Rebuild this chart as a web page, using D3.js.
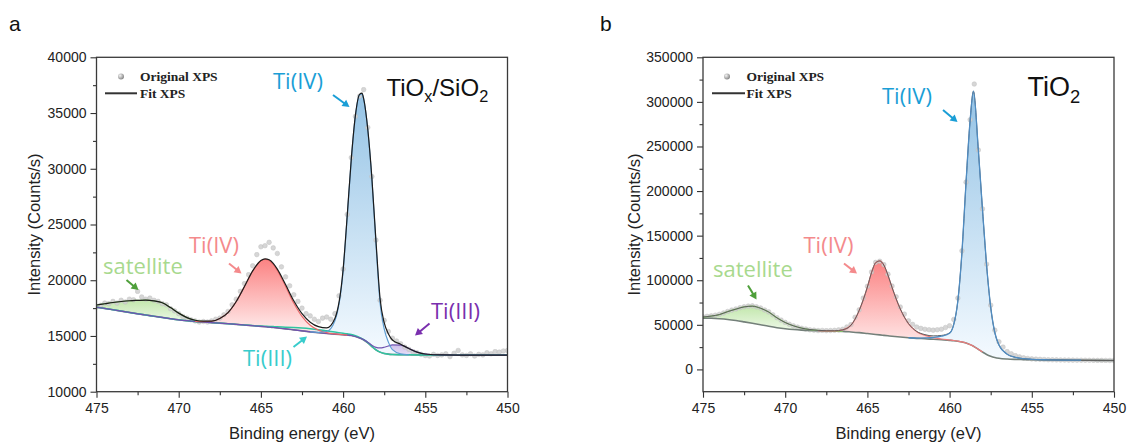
<!DOCTYPE html>
<html><head><meta charset="utf-8">
<script src="https://cdn.jsdelivr.net/npm/d3@7"></script>
<style>body{margin:0;background:#fff}svg{display:block}</style>
</head><body><svg id="c" width="1129" height="445"></svg>
<script>
// ---------- DATA ----------
const dataEnergy = [475,474.75,474.5,474.25,474,473.75,473.5,473.25,473,472.75,472.5,472.25,472,471.75,471.5,471.25,471,470.75,470.5,470.25,470,469.75,469.5,469.25,469,468.75,468.5,468.25,468,467.75,467.5,467.25,467,466.75,466.5,466.25,466,465.75,465.5,465.25,465,464.75,464.5,464.25,464,463.75,463.5,463.25,463,462.75,462.5,462.25,462,461.75,461.5,461.25,461,460.75,460.5,460.25,460,459.75,459.5,459.25,459,458.75,458.5,458.25,458,457.75,457.5,457.25,457,456.75,456.5,456.25,456,455.75,455.5,455.25,455,454.75,454.5,454.25,454,453.75,453.5,453.25,453,452.75,452.5,452.25,452,451.75,451.5,451.25,451,450.75,450.5,450.25,450];

const aData = [17600,17750,17950,17900,18100,17950,18200,18050,18300,18250,
  19000,18500,18300,18400,18200,18100,17900,17800,17450,17250,
  17000,16750,16600,16450,16350,16250,16300,16250,16350,16500,
  16600,16900,17200,17800,18300,19000,19700,20500,21300,22300,
  23000,23100,23400,22900,22400,21200,20300,19500,18700,18100,
  17500,17000,16800,16500,16300,16600,16700,16500,17000,18600,
  21000,25900,31000,34700,36500,37100,33700,29300,23600,18200,
  16400,15400,14800,14550,14300,14000,13800,13600,13500,13350,
  13250,13200,13350,13250,13300,13400,13150,13450,13700,13300,
  13250,13400,13200,13350,13300,13500,13400,13600,13550,13650,
  13700];

const bData = [59000,59500,60000,60800,61800,63300,65000,66500,67800,69200,
  70300,71000,71300,70200,68900,66700,64500,61300,58000,55300,
  52700,50600,48800,47400,46100,45300,44400,44000,43600,43700,
  43500,43600,43800,44300,45000,47600,50300,58500,66800,80000,
  93200,109300,120000,121300,117500,106800,93500,81500,70000,62000,
  54500,50500,47500,46000,45000,44500,44000,44500,45000,47000,
  49000,56000,80000,133000,210000,280000,320000,246000,180000,118000,
  72000,44000,31000,25000,20000,17500,15500,14000,13000,12300,
  11800,11500,11300,11100,10900,10800,10700,10600,10500,10450,
  10400,10350,10300,10250,10200,10150,10100,10100,10050,10000,
  10000];

// panel a fit components (energy grid, background, peak heights above background)
const aEnergy = [475,474.5,474,473.5,473,472.5,472,471.5,471,470.5,470,469.5,469,468.5,468,467.5,467,466.5,466,465.5,465,464.75,464.5,464.25,464,463.5,463,462.5,462,461.5,461,460.5,460,459.75,459.5,459.25,459,458.85,458.75,458.5,458.25,458,457.75,457.5,457.25,457,456.5,456,455.5,455,454,453,452,451,450];
const aBackground = [17580,17470,17350,17230,17110,16990,16880,16770,16660,16550,
  16450,16370,16300,16250,16200,16150,16100,16040,15980,15920,
  15860,15830,15800,15760,15720,15640,15550,15460,15370,15290,
  15220,15160,15110,15080,15040,14950,14820,14720,14640,14380,
  14050,13750,13550,13430,13370,13340,13320,13310,13300,13300,
  13290,13290,13290,13290,13290];
const aSatellite = [200,420,650,860,1050,1200,1330,1370,1320,1000,600,280,110,40,10,0,0,0,0,0,
  0,0,0,0,0,0,0,0,0,0,0,0,0,0,0,0,0,0,0,0,0,0,0,0,0,0,0,0,0,0,0,0,0,0,0];
const aTiIV_2p12 = [0,0,0,0,0,0,0,0,0,0,0,0,0,
  40,120,420,1000,2050,3450,4900,5880,6045,5970,5670,5170,3820,2400,1290,590,230,80,20,5,
  0,0,0,0,0,0,0,0,0,0,0,0,0,0,0,0,0,0,0,0,0,0];
const aTiIV_2p32 = [0,0,0,0,0,0,0,0,0,0,0,0,0,0,0,0,0,0,0,0,0,0,0,0,0,0,0,0,0,
  40,180,1200,5700,10600,15800,19800,21800,22000,21600,19100,15000,9500,4400,2200,1100,440,80,
  0,0,0,0,0,0,0,0];
const aTiIII_2p12 = [0,0,0,0,0,0,0,0,0,0,0,0,0,0,0,0,0,0,
  5,15,30,45,60,80,100,150,205,250,278,275,240,190,135,110,85,65,45,38,33,22,14,8,4,
  0,0,0,0,0,0,0,0,0,0,0,0];
const aTiIII_2p32 = [0,0,0,0,0,0,0,0,0,0,0,0,0,0,0,0,0,0,0,0,0,0,0,0,0,0,0,0,0,0,0,0,0,0,0,0,
  10,20,30,60,120,230,380,560,730,860,860,560,250,80,5,0,0,0,0];

// panel b fit components
const bEnergy = [475,474.5,474,473.5,473,472.5,472,471.5,471,470.5,470,469.5,469,468.5,468,467.5,467,466.5,466,465.5,465,464.75,464.5,464.25,464,463.75,463.5,463,462.5,462,461.5,461,460.5,460,459.75,459.5,459.25,459,458.75,458.55,458.25,458,457.75,457.5,457.25,457,456.5,456,455.5,455,454,453,452,451,450];
const bBackground = [57500,57300,56800,56000,54800,53300,51700,50000,48300,46800,
  45600,44700,44100,43700,43400,43200,43000,42700,42000,41200,
  40200,39700,39200,38700,38200,37700,37200,36300,35500,34800,
  34400,33800,33200,32600,32200,31600,30800,29600,27800,26000,
  22500,19500,16800,14800,13400,12500,11600,11200,11000,10800,
  10600,10400,10300,10100,10000];
const bSatellite = [1200,2500,4700,8800,12800,16800,19200,18600,16000,11000,7000,4200,2200,1000,400,120,30,
  0,0,0,0,0,0,0,0,0,0,0,0,0,0,0,0,0,0,0,0,0,0,0,0,0,0,0,0,0,0,0,0,0,0,0,0,0,0];
const bTiIV_2p12 = [0,0,0,0,0,0,0,0,0,0,0,0,0,0,0,
  50,300,1700,7500,24900,52200,68800,80400,82900,78800,68000,54700,31500,15800,7500,3700,1800,900,400,250,150,90,50,30,20,10,
  0,0,0,0,0,0,0,0,0,0,0,0,0,0];
const bTiIV_2p32 = [0,0,0,0,0,0,0,0,0,0,0,0,0,0,0,0,0,0,0,0,0,0,0,0,0,0,0,0,0,
  300,900,2000,4000,8000,18000,45000,100000,180200,251700,286000,223000,160000,100000,55000,28000,15000,5500,2300,1000,500,150,50,
  0,0,0];

// axes ticks
const xMajorTicks = [475,470,465,460,455,450];
const xMinorTicks = [472.5,467.5,462.5,457.5,452.5];
const aYMajor = [10000,15000,20000,25000,30000,35000,40000];
const aYMinor = [12500,17500,22500,27500,32500,37500];
const bYMajor = [0,50000,100000,150000,200000,250000,300000,350000];
const bYMinor = [25000,75000,125000,175000,225000,275000,325000];

// ---------- DRAW ----------
const svg = d3.select('#c');
const defs = svg.append('defs');
const AX = "'Liberation Sans', Arial, Helvetica, sans-serif";
const LBL = "'Open Sans', 'Noto Sans', sans-serif";

function grad(id, c1, c2) {
  const g = defs.append('linearGradient').attr('id', id)
    .attr('x1', 0).attr('y1', 0).attr('x2', 0).attr('y2', 1);
  g.append('stop').attr('offset', '0%').attr('stop-color', c1);
  g.append('stop').attr('offset', '100%').attr('stop-color', c2);
}
grad('gBlue', '#8fc0e4', '#f4faff');
grad('gRed', '#fb7c7c', '#fff1f1');
grad('gGreen', '#bfe6a8', '#eef8e8');
grad('gCyan', '#8fe0cc', '#d8f4ec');
grad('gPurple', '#b7a2e0', '#e6ddf6');
const rg = defs.append('radialGradient').attr('id', 'gDot').attr('cx', '35%').attr('cy', '35%').attr('r', '65%');
rg.append('stop').attr('offset', '0%').attr('stop-color', '#f4f4f4');
rg.append('stop').attr('offset', '100%').attr('stop-color', '#8a8a8a');

function arrow(g, x1, y1, x2, y2, color) {
  const dx = x2 - x1, dy = y2 - y1, L = Math.hypot(dx, dy);
  const ux = dx / L, uy = dy / L, hl = 7, hw = 4;
  const bx = x2 - ux * hl, by = y2 - uy * hl;
  g.append('line').attr('x1', x1).attr('y1', y1).attr('x2', bx + ux).attr('y2', by + uy)
    .attr('stroke', color).attr('stroke-width', 2);
  g.append('path').attr('d', `M${x2},${y2}L${bx - uy * hw},${by + ux * hw}L${bx + uy * hw},${by - ux * hw}Z`)
    .attr('fill', color);
}

function drawPanel(p) {
  const x = d3.scaleLinear().domain([475, 450]).range([p.left, p.right]);
  const y = d3.scaleLinear().domain(p.yDomain).range([p.bottom, p.top]);
  const g = svg.append('g');
  const clipId = 'clip' + p.id;
  defs.append('clipPath').attr('id', clipId).append('rect')
    .attr('x', p.left).attr('y', p.top).attr('width', p.right - p.left).attr('height', p.bottom - p.top);
  const plot = g.append('g').attr('clip-path', `url(#${clipId})`);
  const E = p.energy, bg = p.bg;
  const fit = E.map((e, i) => bg[i] + p.comps.reduce((s, c) => s + c.h[i], 0));

  // fills
  p.comps.forEach(c => {
    const on = i => c.h[i] > 0 || (i > 0 && c.h[i - 1] > 0) || (i < E.length - 1 && c.h[i + 1] > 0);
    const area = d3.area().defined((d, i) => on(i))
      .x((d, i) => x(E[i])).y0((d, i) => y(bg[i])).y1((d, i) => y(bg[i] + c.h[i]))
      .curve(d3.curveMonotoneX);
    plot.append('path').datum(E).attr('d', area).attr('fill', `url(#${c.grad})`).attr('opacity', c.op || 0.95);
  });
  // data points
  plot.append('g').selectAll('circle').data(p.data).join('circle')
    .attr('cx', (d, i) => x(dataEnergy[i])).attr('cy', d => y(d)).attr('r', 2.3)
    .attr('fill', '#d2d2d2').attr('stroke', '#bcbcbc').attr('stroke-width', 0.5).attr('opacity', 0.9);
  // background line
  const lineOf = arr => d3.line().x((d, i) => x(E[i])).y((d, i) => y(arr[i])).curve(d3.curveMonotoneX);
  plot.append('path').datum(E).attr('d', lineOf(bg)).attr('fill', 'none')
    .attr('stroke', p.bgColor).attr('stroke-width', 1.6);
  // component lines
  p.comps.forEach(c => {
    const vals = E.map((e, i) => bg[i] + c.h[i]);
    const on = i => c.full || c.h[i] > 0 || (i > 0 && c.h[i - 1] > 0) || (i < E.length - 1 && c.h[i + 1] > 0);
    const ln = d3.line().defined((d, i) => on(i)).x((d, i) => x(E[i])).y((d, i) => y(vals[i])).curve(d3.curveMonotoneX);
    if (!c.top) plot.append('path').datum(E).attr('d', ln).attr('fill', 'none')
      .attr('stroke', c.line).attr('stroke-width', c.lw || 1.2);
  });
  // fit line
  plot.append('path').datum(E).attr('d', lineOf(fit)).attr('fill', 'none')
    .attr('stroke', p.fitColor).attr('stroke-width', p.fitWidth);
  p.comps.filter(c => c.top).forEach(c => {
    const vals = E.map((e, i) => bg[i] + c.h[i]);
    const on = i => c.h[i] > 0 || (i > 0 && c.h[i - 1] > 0) || (i < E.length - 1 && c.h[i + 1] > 0);
    const ln = d3.line().defined((d, i) => on(i)).x((d, i) => x(E[i])).y((d, i) => y(vals[i])).curve(d3.curveMonotoneX);
    plot.append('path').datum(E).attr('d', ln).attr('fill', 'none')
      .attr('stroke', c.line).attr('stroke-width', c.lw || 1.3);
  });

  // axes
  const styleAxis = a => {
    a.select('.domain').remove();
    a.selectAll('line').attr('stroke', '#333').attr('stroke-width', 1.1);
    a.selectAll('text').attr('font-family', AX).attr('font-size', 14).attr('fill', '#222');
  };
  g.append('g').attr('transform', `translate(${p.left},0)`)
    .call(d3.axisLeft(y).tickValues(p.yMajor).tickSize(6).tickPadding(4).tickFormat(d3.format('d'))).call(styleAxis);
  g.append('g').attr('transform', `translate(${p.left},0)`)
    .call(d3.axisLeft(y).tickValues(p.yMinor).tickSize(3.5).tickFormat('')).call(styleAxis);
  g.append('g').attr('transform', `translate(0,${p.bottom})`)
    .call(d3.axisBottom(x).tickValues(xMajorTicks).tickSize(6).tickPadding(5).tickFormat(d3.format('d'))).call(styleAxis);
  g.append('g').attr('transform', `translate(0,${p.bottom})`)
    .call(d3.axisBottom(x).tickValues(xMinorTicks).tickSize(3.5).tickFormat('')).call(styleAxis);
  g.append('rect').attr('x', p.left).attr('y', p.top).attr('width', p.right - p.left).attr('height', p.bottom - p.top)
    .attr('fill', 'none').attr('stroke', '#3a3a3a').attr('stroke-width', 1.3);

  // axis titles
  g.append('text').attr('x', (p.left + p.right) / 2).attr('y', 439).attr('text-anchor', 'middle')
    .attr('font-family', AX).attr('font-size', 16.5).attr('fill', '#222').text('Binding energy (eV)');
  g.append('text').attr('transform', `translate(${p.ytitleX},${(p.top + p.bottom) / 2}) rotate(-90)`)
    .attr('text-anchor', 'middle').attr('dy', '0.35em')
    .attr('font-family', AX).attr('font-size', 16.5).attr('fill', '#222').text('Intensity (Counts/s)');
  // panel letter
  g.append('text').attr('x', p.letterX).attr('y', 31).attr('font-family', AX).attr('font-size', 21)
    .attr('fill', '#111').text(p.id);

  // legend
  const lg = p.legend;
  g.append('circle').attr('cx', lg.dotX).attr('cy', 76.5).attr('r', 3).attr('fill', 'url(#gDot)');
  g.append('text').attr('x', lg.textX).attr('y', 81).attr('font-family', "'Liberation Serif', 'Times New Roman', serif")
    .attr('font-weight', 'bold').attr('font-size', 13.5).attr('fill', '#222').text('Original XPS');
  g.append('line').attr('x1', lg.lineX1).attr('x2', lg.lineX2).attr('y1', 93.3).attr('y2', 93.3)
    .attr('stroke', '#333').attr('stroke-width', 2);
  g.append('text').attr('x', lg.textX).attr('y', 97.5).attr('font-family', "'Liberation Serif', 'Times New Roman', serif")
    .attr('font-weight', 'bold').attr('font-size', 13.5).attr('fill', '#222').text('Fit XPS');

  // annotations
  p.notes.forEach(n => {
    g.append('text').attr('x', n.x).attr('y', n.y).attr('dy', '0.35em').attr('font-family', LBL)
      .attr('font-size', 22).attr('fill', n.color).text(n.text);
    arrow(g, n.a[0], n.a[1], n.a[2], n.a[3], n.ac || n.color);
  });
  // sample name with subscripts
  const t = g.append('text').attr('x', p.sample.x).attr('y', 96).attr('font-family', AX)
    .attr('font-size', p.sample.size).attr('fill', '#111');
  p.sample.parts.forEach(pt => {
    const ts = t.append('tspan').text(pt.t);
    if (pt.sub) ts.attr('font-size', p.sample.size * 0.68).attr('dy', p.sample.size * 0.25);
    else if (pt.back) ts.attr('dy', -p.sample.size * 0.25);
  });
}

const BLUE = '#1a9ed6', PINK = '#f48a8c', GREEN = '#a8d98e', CYAN = '#38cccc', PURPLE = '#7a2fae';

drawPanel({
  id: 'a', left: 96.5, right: 507.5, top: 57.3, bottom: 391.7, yDomain: [10000, 40000],
  yMajor: aYMajor, yMinor: aYMinor, energy: aEnergy, bg: aBackground, data: aData,
  bgColor: '#7f7f86', fitColor: '#1c1c1c', fitWidth: 1.2, ytitleX: 34, letterX: 9,
  comps: [
    {h: aSatellite, grad: 'gGreen', line: '#7dbd62'},
    {h: aTiIII_2p12, grad: 'gCyan', line: '#2fc4a0', full: true, lw: 1.5},
    {h: aTiIII_2p32, grad: 'gPurple', line: '#6f52b0', full: true, lw: 1.2},
    {h: aTiIV_2p12, grad: 'gRed', line: '#e86868'},
    {h: aTiIV_2p32, grad: 'gBlue', line: '#5d9dd2'}
  ],
  legend: {dotX: 121, textX: 140, lineX1: 105, lineX2: 137},
  notes: [
    {text: 'Ti(IV)', x: 273, y: 81.5, color: BLUE, a: [333, 95, 349.5, 107]},
    {text: 'Ti(IV)', x: 189, y: 245.5, color: PINK, a: [229, 263.5, 241.5, 273.5]},
    {text: 'satellite', x: 103, y: 266, color: GREEN, ac: '#4e9f3a', a: [126.5, 280, 138.5, 290]},
    {text: 'Ti(III)', x: 243, y: 358, color: CYAN, a: [293.5, 347, 307, 336.5]},
    {text: 'Ti(III)', x: 431, y: 311.5, color: PURPLE, a: [429.5, 323.5, 415, 335.5]}
  ],
  sample: {x: 386.5, size: 24, parts: [{t: 'TiO'}, {t: 'x', sub: true}, {t: '/SiO', back: true}, {t: '2', sub: true}]}
});

drawPanel({
  id: 'b', left: 703, right: 1114, top: 57.3, bottom: 391.7, yDomain: [-25000, 350000],
  yMajor: bYMajor, yMinor: bYMinor, energy: bEnergy, bg: bBackground, data: bData,
  bgColor: '#74807a', fitColor: '#5e5e5e', fitWidth: 1.0, ytitleX: 634, letterX: 600,
  comps: [
    {h: bSatellite, grad: 'gGreen', line: '#86c46c'},
    {h: bTiIV_2p12, grad: 'gRed', line: '#ee7b7b'},
    {h: bTiIV_2p32, grad: 'gBlue', line: '#4f8cc2', top: true}
  ],
  legend: {dotX: 727, textX: 746.5, lineX1: 712, lineX2: 745},
  notes: [
    {text: 'Ti(IV)', x: 882, y: 96.5, color: BLUE, a: [943, 110, 957.5, 122]},
    {text: 'Ti(IV)', x: 803.5, y: 245, color: PINK, a: [844, 263.5, 857, 273.5]},
    {text: 'satellite', x: 713, y: 269.5, color: GREEN, ac: '#4e9f3a', a: [748, 285.5, 756.5, 299.5]}
  ],
  sample: {x: 1027.5, size: 27, parts: [{t: 'TiO'}, {t: '2', sub: true}]}
});
</script>
</body></html>
